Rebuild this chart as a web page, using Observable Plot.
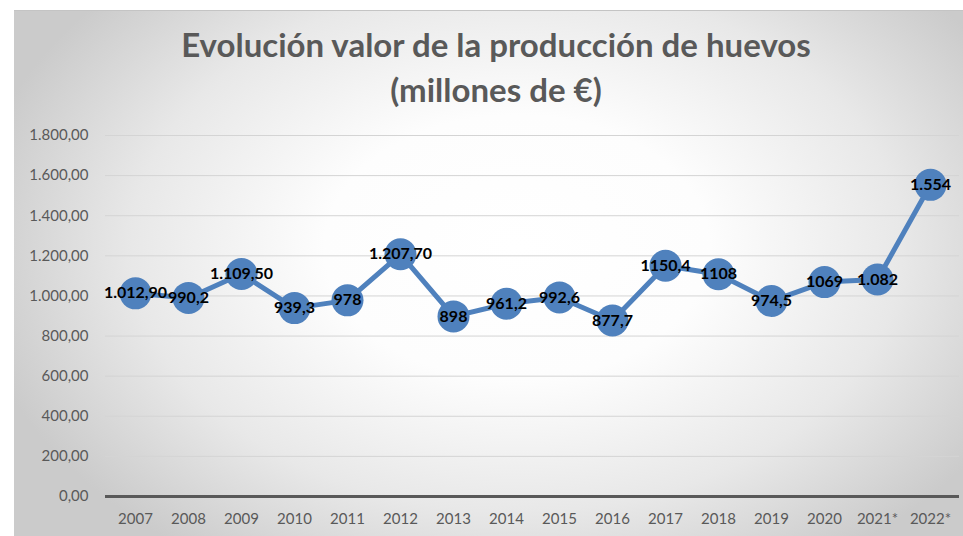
<!DOCTYPE html>
<html>
<head>
<meta charset="utf-8">
<script src="https://cdn.jsdelivr.net/npm/d3@7"></script>
<script src="https://cdn.jsdelivr.net/npm/@observablehq/plot@0.6"></script>
<style>
  html, body { margin: 0; padding: 0; background: #ffffff; width: 963px; height: 536px; overflow: hidden; }
  #frame {
    position: absolute; left: 14px; top: 10px; width: 949px; height: 526px;
    border-top: 1px solid #c4c4c4; box-sizing: border-box;
    background: radial-gradient(ellipse 58% 72% at 53% 45%, #ffffff 0%, #fdfdfd 35%, #e8e8e8 70%, #cbcbcb 100%);
    font-family: Lato, "Open Sans", sans-serif;
  }
  #title {
    position: absolute; left: 0; top: 0; width: 949px; height: 109px;
    padding-left: 15px; box-sizing: border-box;
    text-align: center; color: #595959; font-weight: bold; font-size: 33px; line-height: 45px;
    padding-top: 11px;
  }
  #chart { position: absolute; left: 0; top: 109px; }
</style>
</head>
<body>
<div id="frame">
  <div id="title">Evolución valor de la producción de huevos<br>(millones de €)</div>
  <div id="chart"></div>
</div>
<script>
const years = ["2007","2008","2009","2010","2011","2012","2013","2014","2015","2016","2017","2018","2019","2020","2021*","2022*"];
const values = [1012.9, 990.2, 1109.5, 939.3, 978, 1207.7, 898, 961.2, 992.6, 877.7, 1150.4, 1108, 974.5, 1069, 1082, 1554];
const labels = ["1.012,90","990,2","1.109,50","939,3","978","1.207,70","898","961,2","992,6","877,7","1150,4","1108","974,5","1069","1.082","1.554"];
const yTicks = [0, 200, 400, 600, 800, 1000, 1200, 1400, 1600, 1800];

const data = years.map((y, i) => ({year: y, value: values[i], label: labels[i]}));
const esFormat = d3.formatLocale({decimal: ",", thousands: ".", grouping: [3], currency: ["", "€"]}).format(",.2f");
const blue = "#4F81BD";

const plot = Plot.plot({
  width: 949,
  height: 416,
  marginTop: 15,
  marginBottom: 40,
  marginLeft: 91,
  marginRight: 4,
  style: {background: "transparent", fontFamily: "Lato, 'Open Sans', sans-serif"},
  x: {domain: years, type: "point", padding: 0.5},
  y: {domain: [0, 1800]},
  marks: [
    Plot.gridY(yTicks, {stroke: "#d4d4d4", strokeOpacity: 1, strokeWidth: 1}),
    Plot.ruleY([0], {stroke: "#595959", strokeWidth: 3}),
    Plot.axisY(yTicks, {tickSize: 0, tickPadding: 17, tickFormat: esFormat, fontSize: 15, fill: "#595959", label: null}),
    Plot.axisX({tickSize: 0, tickPadding: 17, fontSize: 15, fill: "#595959", label: null}),
    Plot.line(data, {x: "year", y: "value", stroke: blue, strokeWidth: 5, curve: "linear"}),
    Plot.dot(data, {x: "year", y: "value", r: 16, fill: blue, stroke: "none"}),
    Plot.text(data, {x: "year", y: "value", text: "label", fill: "#000000", fontWeight: "bold", fontSize: 16})
  ]
});
document.getElementById("chart").appendChild(plot);
</script>
</body>
</html>
